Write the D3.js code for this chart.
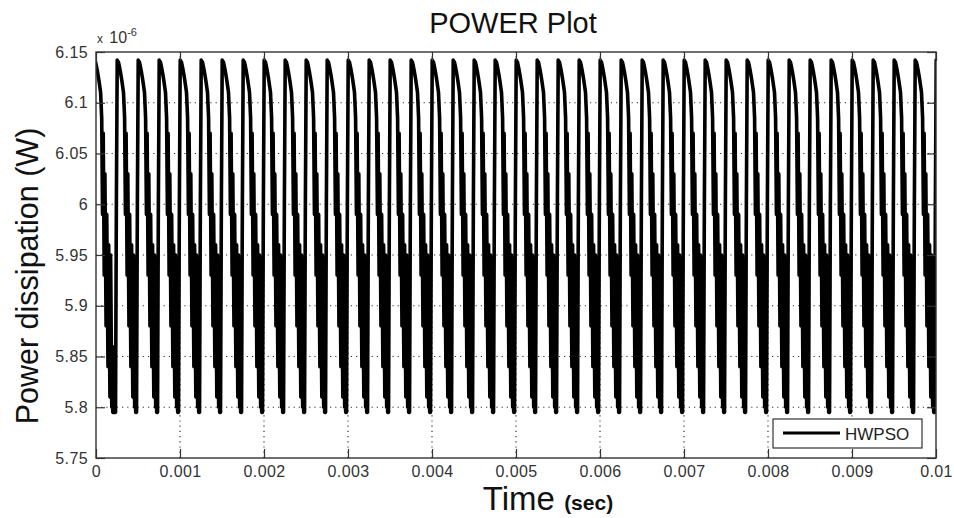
<!DOCTYPE html>
<html lang="en">
<head>
    <meta charset="UTF-8">
    <title>POWER Plot</title>
    <script src="https://cdn.jsdelivr.net/npm/d3@7/dist/d3.min.js"></script>
    <style>
        body { margin: 0; background: #fff; }
        svg { display: block; font-family: "Liberation Sans", Arial, sans-serif; }
    </style>
</head>
<body>
    <div class="content"></div>
    <script>
        // rise start of each cycle (s)
        const cycleStarts = [
            -0.00004, 0.0002325, 0.0004825, 0.0007325, 0.0009825, 0.0012325, 0.0014825, 0.0017325,
            0.0019825, 0.0022325, 0.0024825, 0.0027325, 0.0029825, 0.0032325, 0.0034825, 0.0037325,
            0.0039825, 0.0042325, 0.0044825, 0.0047325, 0.0049825, 0.0052325, 0.0054825, 0.0057325,
            0.0059825, 0.0062325, 0.0064825, 0.0067325, 0.0069825, 0.0072325, 0.0074825, 0.0077325,
            0.0079825, 0.0082325, 0.0084825, 0.0087325, 0.0089825, 0.0092325, 0.0094825, 0.0097325,
            0.0099825
        ]
        // shape of one cycle: offset from rise start (microseconds) and power (x 1e-6 W)
        const cycleOffsetUs = [0, 10, 20, 35, 55, 75, 95, 108, 118, 126, 138, 146, 160, 168, 183, 191, 206, 214, 228, 234, 240, 248]
        const cycleValue = [5.795, 6.0, 6.142, 6.14, 6.132, 6.122, 6.11, 6.085, 5.99, 6.07, 5.93, 6.03, 5.88, 5.99, 5.84, 5.96, 5.81, 5.95, 5.8, 5.86, 5.795, 5.795]

        const xTicks = [0, 0.001, 0.002, 0.003, 0.004, 0.005, 0.006, 0.007, 0.008, 0.009, 0.01]
        const yTicks = [5.75, 5.8, 5.85, 5.9, 5.95, 6, 6.05, 6.1, 6.15]
        const seriesName = "HWPSO"

        const W = 954, H = 518
        const margin = { left: 96, right: 18, top: 52, bottom: 60 }

        const points = []
        cycleStarts.forEach(s => {
            cycleOffsetUs.forEach((o, i) => {
                const t = s + o * 1e-6
                if (t >= -0.00005 && t <= 0.01002) points.push([t, cycleValue[i] * 1e-6])
            })
        })

        const svg = d3.select(".content").append("svg").attr("width", W).attr("height", H)
        svg.append("rect").attr("width", W).attr("height", H).attr("fill", "#fff")

        const x = d3.scaleLinear().domain([0, 0.01]).range([margin.left, W - margin.right])
        const y = d3.scaleLinear().domain([5.75e-6, 6.15e-6]).range([H - margin.bottom, margin.top])

        // grid
        const grid = svg.append("g").attr("stroke", "#333").attr("stroke-width", 1.2).attr("stroke-dasharray", "1.2,4")
        grid.selectAll(".vx").data(xTicks.slice(1, -1)).join("line")
            .attr("x1", d => x(d)).attr("x2", d => x(d))
            .attr("y1", y.range()[0]).attr("y2", y.range()[1])
        grid.selectAll(".hy").data(yTicks.slice(1, -1)).join("line")
            .attr("y1", d => y(d * 1e-6)).attr("y2", d => y(d * 1e-6))
            .attr("x1", x.range()[0]).attr("x2", x.range()[1])

        svg.append("clipPath").attr("id", "plotclip").append("rect")
            .attr("x", x.range()[0]).attr("y", y.range()[1])
            .attr("width", x.range()[1] - x.range()[0]).attr("height", y.range()[0] - y.range()[1])

        const line = d3.line().x(d => x(d[0])).y(d => y(d[1]))
        svg.append("path").datum(points)
            .attr("clip-path", "url(#plotclip)")
            .attr("d", line)
            .attr("fill", "none")
            .attr("stroke", "#000")
            .attr("stroke-width", 3.6)
            .attr("stroke-linejoin", "round")

        // axes
        const yFmt = d => d3.format("~g")(+(d * 1e6).toFixed(4))
        const xFmt = d => d3.format("~g")(d)
        const styleAxis = g => {
            g.select(".domain").remove()
            g.selectAll(".tick line").attr("stroke", "#333").attr("stroke-width", 1.2)
            g.selectAll(".tick text").attr("fill", "#333").attr("font-size", 16)
                .attr("font-family", "'Liberation Sans', Arial, sans-serif").attr("letter-spacing", 0.4)
        }
        const yVals = yTicks.map(d => d * 1e-6)
        svg.append("g").attr("transform", `translate(${x.range()[0]},0)`)
            .call(d3.axisLeft(y).tickValues(yVals).tickFormat(yFmt).tickSize(-9).tickPadding(8)).call(styleAxis)
        svg.append("g").attr("transform", `translate(${x.range()[1]},0)`)
            .call(d3.axisRight(y).tickValues(yVals).tickFormat("").tickSize(-9)).call(styleAxis)
        svg.append("g").attr("transform", `translate(0,${y.range()[0]})`)
            .call(d3.axisBottom(x).tickValues(xTicks).tickFormat(xFmt).tickSize(-9).tickPadding(8)).call(styleAxis)
        svg.append("g").attr("transform", `translate(0,${y.range()[1]})`)
            .call(d3.axisTop(x).tickValues(xTicks).tickFormat("").tickSize(-9)).call(styleAxis)

        svg.append("rect")
            .attr("x", x.range()[0]).attr("y", y.range()[1])
            .attr("width", x.range()[1] - x.range()[0]).attr("height", y.range()[0] - y.range()[1])
            .attr("fill", "none").attr("stroke", "#333").attr("stroke-width", 1.4)

        // exponent label
        const ex = svg.append("text").attr("x", x.range()[0] + 1).attr("y", 43).attr("fill", "#333")
        ex.append("tspan").attr("font-size", 12).text("x ")
        ex.append("tspan").attr("font-size", 16).attr("dx", 3).text("10")
        ex.append("tspan").attr("font-size", 11).attr("dy", -7).text("-6")

        // title and axis labels
        svg.append("text").attr("x", 513).attr("y", 33).attr("text-anchor", "middle")
            .attr("font-size", 29).attr("fill", "#111").text("POWER Plot")
        svg.append("text").attr("transform", "translate(38,276) rotate(-90)").attr("text-anchor", "middle")
            .attr("font-size", 30.5).attr("fill", "#111").text("Power dissipation (W)")
        const xl = svg.append("text").attr("x", 548).attr("y", 510).attr("text-anchor", "middle").attr("fill", "#111")
        xl.append("tspan").attr("font-size", 33).text("Time ")
        xl.append("tspan").attr("font-size", 21).attr("font-weight", "bold").text("(sec)")

        // legend
        const lg = svg.append("g").attr("transform", "translate(773,419)")
        lg.append("rect").attr("width", 149).attr("height", 29).attr("fill", "#fff")
            .attr("stroke", "#333").attr("stroke-width", 1.2)
        lg.append("line").attr("x1", 10).attr("x2", 67).attr("y1", 14).attr("y2", 14)
            .attr("stroke", "#000").attr("stroke-width", 3.2)
        lg.append("text").attr("x", 72).attr("y", 21).attr("font-size", 17).attr("fill", "#222").text(seriesName)
    </script>
</body>
</html>
